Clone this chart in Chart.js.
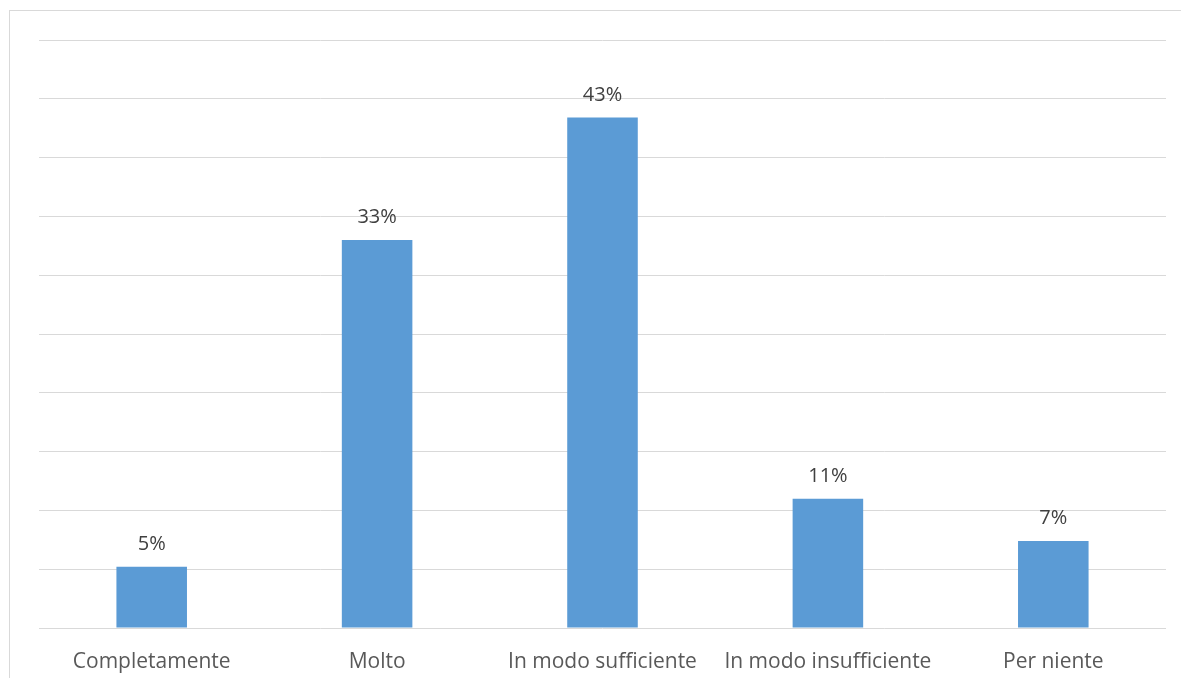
<!DOCTYPE html>
<html>
<head>
<meta charset="utf-8">
<script src="https://cdn.jsdelivr.net/npm/chart.js@4"></script>
<style>
    html, body { margin: 0; padding: 0; background: #fff; }
    #wrap { position: relative; width: 1181px; height: 678px; }
    #frame {
        position: absolute; left: 9px; top: 10px; right: 0; bottom: 0;
        border-left: 1px solid #d9d9d9; border-top: 1px solid #d9d9d9;
    }
    canvas { position: absolute; left: 0; top: 0; }
</style>
</head>
<body>
<div id="wrap">
    <div id="frame"></div>
    <canvas id="chart" width="1181" height="678"></canvas>
</div>
<script>
const categories = ["Completamente", "Molto", "In modo sufficiente", "In modo insufficiente", "Per niente"];
const values = [5.2, 33.0, 43.4, 11.0, 7.4];
const valueLabels = ["5%", "33%", "43%", "11%", "7%"];

// Labels above each bar
const barLabels = {
    id: 'barLabels',
    afterDatasetsDraw(chart) {
        const ctx = chart.ctx;
        const meta = chart.getDatasetMeta(0);
        ctx.save();
        ctx.font = '20px "Open Sans"';
        ctx.fillStyle = '#404040';
        ctx.textAlign = 'center';
        ctx.textBaseline = 'alphabetic';
        meta.data.forEach((bar, i) => {
            ctx.fillText(valueLabels[i], bar.x, bar.y - 17);
        });
        ctx.restore();
    }
};

new Chart(document.getElementById("chart").getContext("2d"), {
    type: 'bar',
    data: {
        labels: categories,
        datasets: [{
            data: values,
            backgroundColor: '#5B9BD5',
            borderWidth: 0,
            categoryPercentage: 1,
            barPercentage: 0.313
        }]
    },
    options: {
        responsive: false,
        animation: false,
        layout: { padding: { left: 39, right: 15, top: 40, bottom: 0 } },
        plugins: {
            legend: { display: false },
            tooltip: { enabled: false }
        },
        scales: {
            x: {
                grid: { display: false, drawTicks: false, tickLength: 0 },
                border: { display: false },
                ticks: {
                    color: '#595959',
                    font: { family: '"Open Sans"', size: 21 },
                    padding: 21,
                    maxRotation: 0,
                    autoSkip: false
                },
                afterFit(scale) { scale.height = 50; }
            },
            y: {
                min: 0,
                max: 50,
                ticks: { display: false, stepSize: 5 },
                grid: { color: '#d9d9d9', lineWidth: 1, drawTicks: false },
                border: { display: false }
            }
        }
    },
    plugins: [barLabels]
});
</script>
</body>
</html>
